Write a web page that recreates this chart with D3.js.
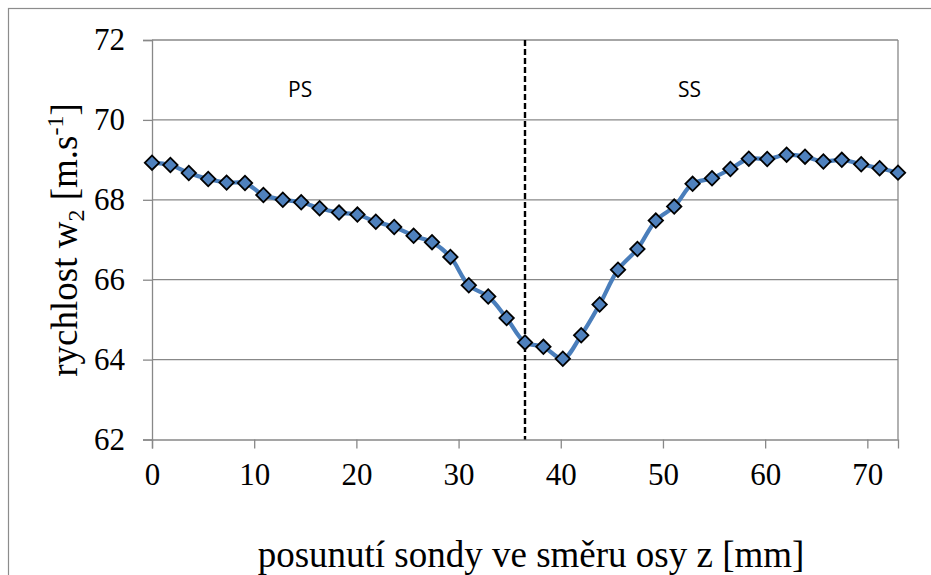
<!DOCTYPE html>
<meta charset="utf-8">
<style>
    body { margin: 0; background: #fff; }
    .tick text { font: 31px "Liberation Serif", "Times New Roman", serif; fill: #000; }
    .axis-title { font: 37px "Liberation Serif", "Times New Roman", serif; fill: #000; }
    .zone { font: 21px "Open Sans", Lato, sans-serif; fill: #000; text-anchor: middle; }
</style>
<svg width="931" height="575"></svg>
<script src="https://d3js.org/d3.v7.min.js"></script>
<script>

    // posunuti sondy [mm]
    var posX = [0, 1.8, 3.6, 5.5, 7.3, 9.1, 10.9, 12.8, 14.6, 16.4,
        18.3, 20.1, 21.9, 23.7, 25.6, 27.4, 29.2, 31.0, 32.9, 34.7,
        36.5, 38.3, 40.2, 42.0, 43.8, 45.6, 47.5, 49.3, 51.1, 52.9,
        54.8, 56.6, 58.4, 60.2, 62.1, 63.9, 65.7, 67.5, 69.4, 71.2, 73.0];
    // rychlost w2 [m/s]
    var w2 = [68.93, 68.87, 68.67, 68.52, 68.43, 68.42, 68.12, 68.0, 67.94, 67.79,
        67.68, 67.63, 67.45, 67.32, 67.1, 66.94, 66.57, 65.86, 65.58, 65.04,
        64.43, 64.32, 64.02, 64.61, 65.38, 66.25, 66.77, 67.48, 67.83, 68.4,
        68.54, 68.77, 69.03, 69.02, 69.13, 69.08, 68.96, 69.0, 68.89, 68.79, 68.68];
    var xTicks = [0, 10, 20, 30, 40, 50, 60, 70];
    var yTicks = [62, 64, 66, 68, 70, 72];
    var divider = 36.5;   // hranice PS / SS
    var zones = [{label: "PS", x: 14.5}, {label: "SS", x: 52.6}];

    var svg = d3.select("svg"),
        plotL = 152, plotR = 898, plotT = 40, plotB = 439.5;

    var x = d3.scaleLinear().domain([0, 73]).range([plotL, plotR]);
    var y = d3.scaleLinear().domain([62, 72]).range([plotB, plotT]);

    // outer chart frame (runs off the page on the right/bottom)
    svg.append("rect")
        .attr("x", 8.5).attr("y", 8.5)
        .attr("width", 1000).attr("height", 700)
        .attr("fill", "none").attr("stroke", "#8c8c8c").attr("stroke-width", 1.2);

    // horizontal grid
    svg.append("g")
        .selectAll("line")
        .data(yTicks.slice(1))
        .enter().append("line")
        .attr("x1", plotL).attr("x2", plotR)
        .attr("y1", function (d) { return y(d); })
        .attr("y2", function (d) { return y(d); })
        .attr("stroke", "#888").attr("stroke-width", 1.3);

    // right border of plot area
    svg.append("line")
        .attr("x1", plotR).attr("x2", plotR)
        .attr("y1", plotT).attr("y2", plotB)
        .attr("stroke", "#888").attr("stroke-width", 1.3);

    var yAxis = svg.append("g")
        .attr("transform", "translate(" + plotL + ",0)")
        .call(d3.axisLeft(y).tickValues(yTicks).tickSize(9).tickPadding(18));
    var xAxis = svg.append("g")
        .attr("transform", "translate(0," + plotB + ")")
        .call(d3.axisBottom(x).tickValues(xTicks).tickSize(9).tickPadding(14));

    [xAxis, yAxis].forEach(function (a) {
        a.select(".domain").attr("stroke", "#888").attr("stroke-width", 1.3);
        a.selectAll(".tick line").attr("stroke", "#888").attr("stroke-width", 1.3);
        a.attr("font-family", null).attr("font-size", null);
    });

    // dashed divider
    svg.append("line")
        .attr("x1", x(divider)).attr("x2", x(divider))
        .attr("y1", plotT).attr("y2", plotB)
        .attr("stroke", "#000").attr("stroke-width", 2.4)
        .attr("stroke-dasharray", "6,3");

    svg.selectAll(".zone")
        .data(zones)
        .enter().append("text")
        .attr("class", "zone")
        .attr("x", function (d) { return x(d.x); })
        .attr("y", 97)
        .text(function (d) { return d.label; });

    var pts = posX.map(function (d, i) { return [d, w2[i]]; });

    var line = d3.line()
        .x(function (d) { return x(d[0]); })
        .y(function (d) { return y(d[1]); })
        .curve(d3.curveCatmullRom.alpha(0.5));

    svg.append("path")
        .datum(pts)
        .attr("d", line)
        .attr("fill", "none")
        .attr("stroke", "#4a7ebb")
        .attr("stroke-width", 4.2);

    var diamond = d3.symbol().type(d3.symbolSquare).size(104);
    svg.append("g")
        .selectAll("path")
        .data(pts)
        .enter().append("path")
        .attr("d", diamond)
        .attr("transform", function (d) {
            return "translate(" + x(d[0]) + "," + y(d[1]) + ") rotate(45)";
        })
        .attr("fill", "#4f81bd")
        .attr("stroke", "#000")
        .attr("stroke-width", 1.8);

    // axis titles
    svg.append("text")
        .attr("class", "axis-title")
        .attr("x", 531).attr("y", 567)
        .attr("text-anchor", "middle")
        .text("posunutí sondy ve směru osy z [mm]");

    var yt = svg.append("text")
        .attr("class", "axis-title")
        .attr("transform", "translate(77,240) rotate(-90)")
        .attr("text-anchor", "middle");
    yt.append("tspan").text("rychlost w");
    yt.append("tspan").attr("font-size", 24).attr("dy", 7).text("2");
    yt.append("tspan").attr("dy", -7).text(" [m.s");
    yt.append("tspan").attr("font-size", 24).attr("dy", -14).text("-1");
    yt.append("tspan").attr("dy", 14).text("]");
</script>
